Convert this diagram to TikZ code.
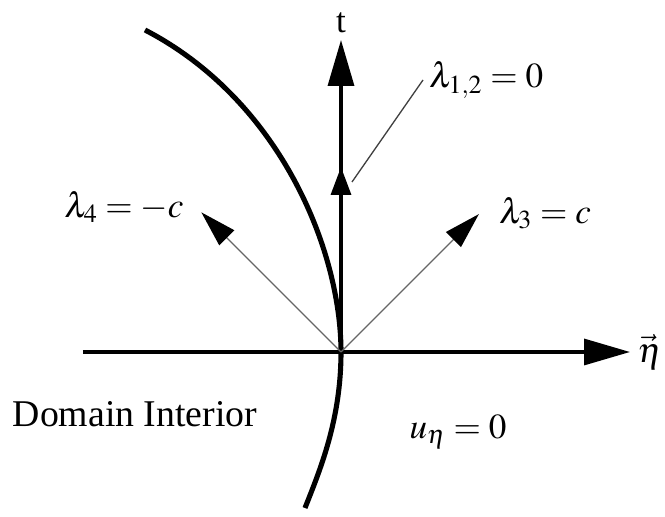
\documentclass[tikz,border=0pt]{standalone}
\usepackage{mathptmx}
\usepackage{fontspec}
\setmainfont{Liberation Serif}
\usetikzlibrary{arrows.meta}

\tikzset{
    lbl/.style={font=\fontsize{20}{24}\selectfont},
    bigtip/.style={-{Triangle[length=0.92cm, width=0.52cm]}},
    midtip/.style={-{Triangle[length=0.56cm, width=0.4cm]}},
    raytip/.style={-{Triangle[length=0.72cm, width=0.42cm, color=black]}}
}

\begin{document}
\begin{tikzpicture}
            \useasboundingbox (-6.82, -3.3) rectangle (6.48, 7.04);

            % Axes
            \coordinate (O) at (0, 0);
            \coordinate (etaL) at (-5.16, 0);
            \coordinate (etaR) at (5.78, 0);
            \coordinate (tTop) at (0, 6.24);
            \coordinate (tMid) at (0, 3.7);
            \draw[line width=1.9pt, bigtip] (etaL) -- (etaR) node[lbl, right] (eta) {$\vec{\eta}$};
            \draw[line width=1.9pt, bigtip] (O) -- (tTop) node[lbl, above] (t) {t};
            \draw[line width=1.9pt, midtip] (O) -- (tMid);

            % Boundary curve
            \draw[line width=2.9pt] (-3.92, 6.44) .. controls (-1.22, 5.04) and (0, 2.04) .. (O)
                                .. controls (0, -1.36) and (-0.42, -2.36) .. (-0.72, -3.12);

            % Characteristics
            \coordinate (r4) at (135:3.95);
            \coordinate (r3) at (45:3.9);
            \draw[gray!80!black, line width=0.75pt, raytip] (O) -- (r4);
            \draw[gray!80!black, line width=0.75pt, raytip] (O) -- (r3);
            \node[lbl] (lam4) at (-4.34, 2.9) {$\lambda_4 = -c$};
            \node[lbl] (lam3) at (4.08, 2.78) {$\lambda_3 = c$};

            % Label for the t direction
            \node[lbl, anchor=west] (lam12) at (1.64, 5.44) {$\lambda_{1,2} = 0$};
            \coordinate (lead) at (0.22, 3.4);
            \draw[black!75, line width=0.75pt] (lead) -- (lam12.west);

            % Regions
            \node[lbl, font=\fontsize{21.5}{25}\selectfont] (dom) at (-4.12, -1.24) {Domain Interior};
            \node[lbl] (ueta) at (2.34, -1.6) {$u_\eta = 0$};

        \end{tikzpicture}
\end{document}
